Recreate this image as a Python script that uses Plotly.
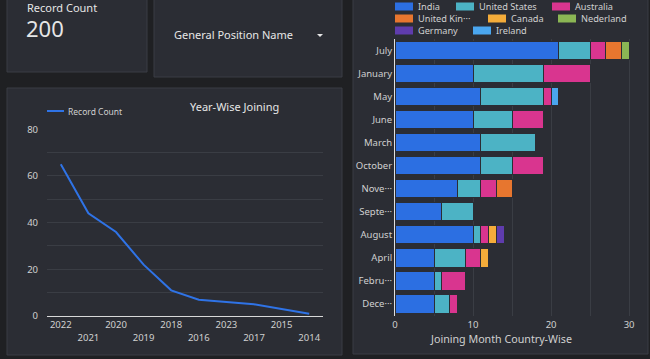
import plotly.graph_objects as go

# ---------------- data ----------------
years = ["2022", "2021", "2020", "2019", "2018", "2016", "2023", "2017", "2015", "2014"]
record_counts = [65, 44, 36, 22, 11, 7, 6, 5, 3, 1]

months = ["July", "January", "May", "June", "March", "October", "November",
          "September", "August", "April", "February", "December"]
month_labels = ["July", "January", "May", "June", "March", "October", "Nove···",
                "Septe···", "August", "April", "Febru···", "Dece···"]

countries = ["India", "United States", "Australia", "United Kingdom", "Canada",
             "Nederland", "Germany", "Ireland"]
country_labels = ["India", "United States", "Australia", "United Kin···", "Canada",
                  "Nederland", "Germany", "Ireland"]
india = [21, 10, 11, 10, 11, 11, 8, 6, 10, 5, 5, 5]
united_states = [4, 9, 8, 5, 7, 4, 3, 4, 1, 4, 1, 2]
australia = [2, 6, 1, 4, None, 4, 2, None, 1, 2, 3, 1]
united_kingdom = [2, None, None, None, None, None, 2, None, None, None, None, None]
canada = [None, None, None, None, None, None, None, None, 1, 1, None, None]
nederland = [1, None, None, None, None, None, None, None, None, None, None, None]
germany = [None, None, None, None, None, None, None, None, 1, None, None, None]
ireland = [None, None, 1, None, None, None, None, None, None, None, None, None]
series = [india, united_states, australia, united_kingdom, canada, nederland, germany, ireland]

total_records = 200
x_ticks_bar = [0, 10, 20, 30]
y_ticks_line = [0, 20, 40, 60, 80]

# ---------------- style ----------------
W, H = 650, 359
FONT = "Noto Sans"
BG = "#1f2023"
PANEL = "#2b2d34"
BORDER = "#3a3d45"
TXT = "#e6e6e6"
SUB = "#d0d0d0"
GRID = "#3a3d44"
colors = ["#2c6fe2", "#4cb3c5", "#d9358f", "#e7762f", "#f4ac3a", "#8bb654", "#5f3cad", "#4aa6ef"]
LINE_BLUE = "#2f73e6"


def px(x):
    return x / W


def py(y):
    return 1 - y / H


fig = go.Figure()

fig.add_trace(go.Scatter(
    x=years, y=record_counts, mode="lines",
    line=dict(color=LINE_BLUE, width=2),
    xaxis="x", yaxis="y", showlegend=False, name="Record Count"))

for name, vals, col in zip(countries, series, colors):
    fig.add_trace(go.Bar(
        y=months, x=vals, orientation="h", name=name,
        marker=dict(color=col, line=dict(color=PANEL, width=1)),
        xaxis="x2", yaxis="y2", showlegend=False))

# panels
shapes = []
panels = [(7, -10, 147, 72), (154, -10, 342, 77), (7, 88, 342, 355), (353, -10, 648, 354)]
for (x0, y0, x1, y1) in panels:
    shapes.append(dict(type="rect", xref="paper", yref="paper",
                       x0=px(x0), x1=px(x1), y0=py(y1), y1=py(y0),
                       fillcolor=PANEL, line=dict(color=BORDER, width=1), layer="below"))


def label(text, x, y, size, color, anchor="left"):
    return dict(text=text, x=px(x), y=py(y), xref="paper", yref="paper",
                xanchor=anchor, yanchor="middle", showarrow=False, borderpad=0,
                font=dict(family=FONT, size=size, color=color))


annotations = []
# scorecard
annotations.append(label("Record Count", 26, 7.5, 11, TXT))
annotations.append(label(str(total_records), 25, 28, 22, TXT))
# dropdown
annotations.append(label("General Position Name", 173, 35, 11, TXT))
shapes.append(dict(type="path", xref="paper", yref="paper",
                   path=f"M {px(317)} {py(34)} L {px(323)} {py(34)} L {px(320)} {py(37)} Z",
                   fillcolor=TXT, line=dict(width=0)))
# line chart title + legend
annotations.append(label("Year-Wise Joining", 234, 106, 11, TXT, "center"))
shapes.append(dict(type="line", xref="paper", yref="paper", x0=px(47), x1=px(64), y0=py(111), y1=py(111),
                   line=dict(color=LINE_BLUE, width=2)))
annotations.append(label("Record Count", 67, 111, 8.5, SUB))
# bar legend (manual flow layout)
legend_pos = [(395, 6.5), (456, 6.5), (552, 6.5), (395, 18.5), (488, 18.5), (558, 18.5), (395, 30.5), (473, 30.5)]
for (lx, ly), lab, col in zip(legend_pos, country_labels, colors):
    shapes.append(dict(type="rect", xref="paper", yref="paper",
                       x0=px(lx), x1=px(lx + 18), y0=py(ly + 4), y1=py(ly - 4),
                       fillcolor=col, line=dict(width=0)))
    annotations.append(label(lab, lx + 22, ly, 9.2, SUB))
# bar axis title
annotations.append(label("Joining Month Country-Wise", 501, 339, 10.7, SUB, "center"))

year_ticktext = [y if i % 2 == 0 else "<br>" + y for i, y in enumerate(years)]
TICKFONT = dict(family=FONT, size=9.5, color=SUB)

fig.update_layout(
    width=W, height=H,
    margin=dict(l=0, r=0, t=0, b=0, autoexpand=False),
    paper_bgcolor=BG, plot_bgcolor="rgba(0,0,0,0)",
    template="none",
    font=dict(family=FONT, color=SUB, size=10),
    barmode="stack", bargap=0.2,
    showlegend=False,
    shapes=shapes, annotations=annotations,
    xaxis=dict(domain=[px(47), px(323)], anchor="y", type="category",
               categoryorder="array", categoryarray=years,
               tickvals=years, ticktext=year_ticktext, range=[-0.5, len(years) - 0.5],
               showgrid=False, zeroline=False, showline=True, linecolor="#d8d8d8", linewidth=1,
               ticks="", automargin=False, tickfont=TICKFONT),
    yaxis=dict(domain=[py(316), py(129.3)], anchor="x", range=[0, 80],
               tickvals=y_ticks_line, showgrid=True, gridcolor=GRID, gridwidth=1,
               minor=dict(dtick=10, showgrid=True, gridcolor=GRID, gridwidth=1),
               zeroline=False, showline=False, ticks="", ticklabelstandoff=8,
               automargin=False, tickfont=TICKFONT),
    xaxis2=dict(domain=[px(395), px(633)], anchor="y2", range=[0, 30.5],
                tickvals=x_ticks_bar, showgrid=True, gridcolor=GRID, gridwidth=1,
                minor=dict(dtick=5, showgrid=True, gridcolor=GRID, gridwidth=1),
                zeroline=False, showline=False, ticks="", ticklabelstandoff=2,
                automargin=False, tickfont=TICKFONT),
    yaxis2=dict(domain=[py(315.5), py(38.7)], anchor="x2", type="category",
                categoryorder="array", categoryarray=months,
                tickvals=months, ticktext=month_labels, autorange="reversed",
                showgrid=False, zeroline=False, showline=True, linecolor="#e0e0e0", linewidth=1,
                ticks="", automargin=False, ticklabelstandoff=0,
                tickfont=TICKFONT),
)

fig.write_html("out.html", config={"displayModeBar": False},
               post_script="document.body.style.margin='0';")
